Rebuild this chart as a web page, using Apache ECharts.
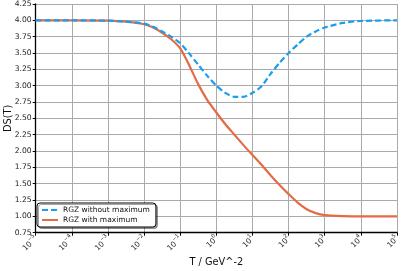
<!DOCTYPE html>
<html><head><meta charset="utf-8">
<script src="https://cdn.jsdelivr.net/npm/echarts@6/dist/echarts.min.js"></script>
<style>html,body{margin:0;padding:0;background:#fff}#c{width:407px;height:271px}</style>
</head><body><div id="c"></div>
<script>
var T = [0.00001, 0.0001, 0.001, 0.00316, 0.01, 0.0178, 0.0316, 0.0562, 0.1, 0.178, 0.316, 0.562, 1, 1.78, 3.16, 5.62, 10, 17.8, 31.6, 56.2, 100, 178, 316, 562, 1000, 3162, 10000, 100000];
var withoutMax = [4.00, 4.00, 3.995, 3.98, 3.95, 3.90, 3.83, 3.75, 3.65, 3.49, 3.32, 3.15, 3.00, 2.89, 2.83, 2.83, 2.89, 2.99, 3.18, 3.35, 3.50, 3.63, 3.75, 3.83, 3.89, 3.96, 3.99, 4.00];
var withMax = [4.00, 4.00, 3.995, 3.98, 3.94, 3.89, 3.81, 3.71, 3.57, 3.31, 3.02, 2.78, 2.59, 2.41, 2.25, 2.09, 1.94, 1.79, 1.63, 1.48, 1.34, 1.21, 1.11, 1.05, 1.02, 1.005, 1.00, 1.00];
var seriesNames = ['RGZ without maximum', 'RGZ with maximum'];
var xName = 'T / GeV^-2';
var yName = 'DS(T)';

function pairs(ys){ return T.map(function(t,i){ return [t, ys[i]]; }); }
function fmtX(v){
  var e = Math.round(Math.log10(v));
  return '{b|10}{e|' + (e < 0 ? '\u2212' + (-e) : e) + '}';
}
var chart = echarts.init(document.getElementById('c'), null, {renderer:'canvas'});
var font = 'DejaVu Sans';
chart.setOption({
  animation:false,
  textStyle:{fontFamily:font},
  grid:{left:35.7, right:10, top:4, bottom:38.3, containLabel:false, outerBoundsMode:'none'},
  legend:{
    left:37, top:203, orient:'vertical', itemGap:2, itemWidth:16, itemHeight:8,
    padding:[3,6,3,4], borderColor:'#000', borderWidth:1, borderRadius:3, backgroundColor:'#fff',
    shadowColor:'rgba(0,0,0,0.35)', shadowOffsetX:1.5, shadowOffsetY:1.5, shadowBlur:0,
    itemStyle:{opacity:0},
    textStyle:{fontSize:7.5, color:'#111', fontFamily:font},
    data:seriesNames
  },
  xAxis:{
    type:'log', logBase:10, min:0.00001, max:100000, interval:1, splitNumber:10,
    name:xName, nameLocation:'middle', nameGap:25, nameMoveOverlap:false,
    nameTextStyle:{fontSize:9.8, color:'#111', fontFamily:font},
    axisLine:{show:true, lineStyle:{color:'#000', width:1.3}},
    axisTick:{show:true, length:3, lineStyle:{color:'#000'}},
    minorTick:{show:false},
    axisLabel:{rotate:45, color:'#222', margin:4, formatter:fmtX, fontFamily:font, showMinLabel:true, showMaxLabel:true, interval:0,
      rich:{
        b:{fontSize:7.5, fontFamily:font, color:'#222', lineHeight:10, verticalAlign:'bottom'},
        e:{fontSize:5.3, fontFamily:font, color:'#222', lineHeight:10, verticalAlign:'top'}
      }},
    splitLine:{show:true, lineStyle:{color:'#aaa', width:1}}
  },
  yAxis:{
    type:'value', min:0.75, max:4.25, interval:0.25,
    name:yName, nameLocation:'middle', nameGap:22, nameMoveOverlap:false,
    nameTextStyle:{fontSize:9.8, color:'#111', fontFamily:font},
    axisLine:{show:true, lineStyle:{color:'#000', width:1.3}},
    axisTick:{show:true, length:3, lineStyle:{color:'#000'}},
    axisLabel:{fontSize:7.6, color:'#222', margin:4, formatter:function(v){return v.toFixed(2);}, fontFamily:font},
    splitLine:{show:true, lineStyle:{color:'#aaa', width:1}}
  },
  series:[
    {name:seriesNames[0], type:'line', data:pairs(withoutMax), smooth:0.25, symbol:'none',
     lineStyle:{color:'#1a9cf0', width:2.2, type:[6,3]}, itemStyle:{color:'#1a9cf0'}, z:3},
    {name:seriesNames[1], type:'line', data:pairs(withMax), smooth:0.25, symbol:'none',
     lineStyle:{color:'#e56b45', width:2.2}, itemStyle:{color:'#e56b45'}, z:2}
  ]
});
</script></body></html>
